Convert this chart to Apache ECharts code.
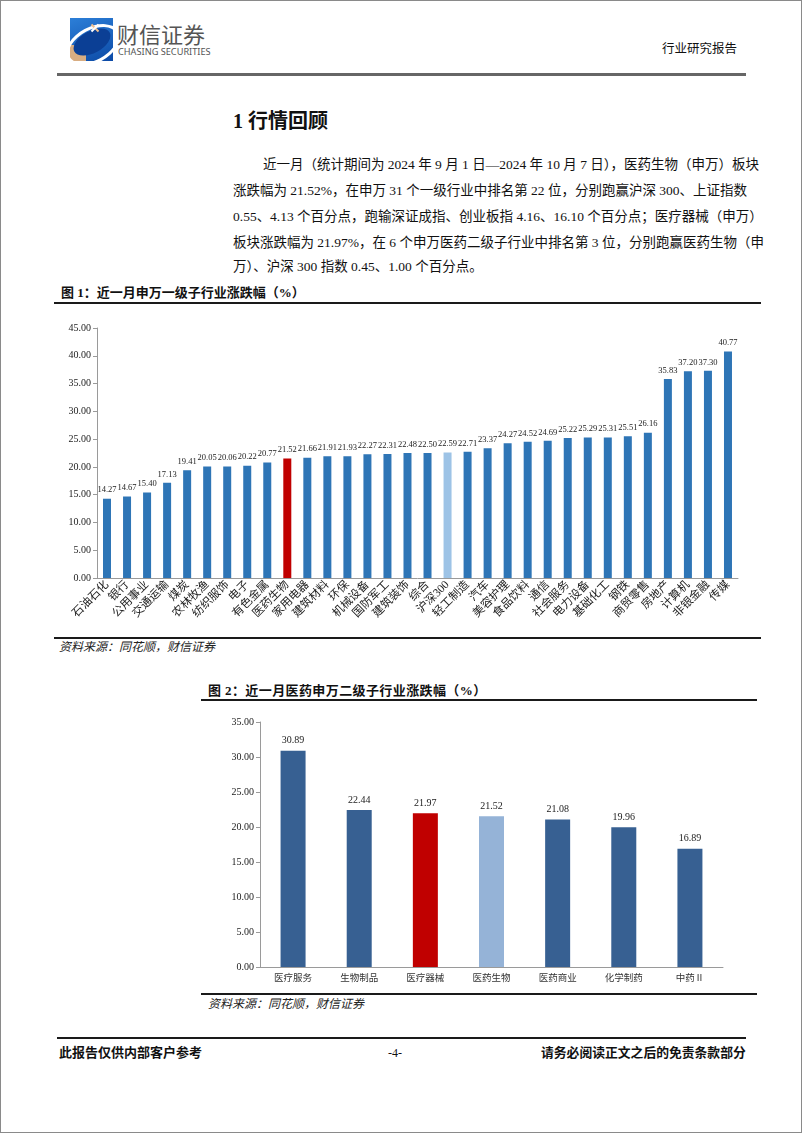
<!DOCTYPE html>
<html lang="zh">
<head>
<meta charset="UTF-8">
<title>行业研究报告</title>
<script src="https://cdn.jsdelivr.net/npm/echarts@6/dist/echarts.min.js"></script>
<style>
  body { margin: 0; background: #fff; }
  #page { position: relative; width: 802px; height: 1133px; box-sizing: border-box; border: 1px solid #8a8a8a; overflow: hidden;
          font-family: "Liberation Serif", "Noto Sans CJK SC", serif; color: #111; }
  .abs { position: absolute; }
  .rule { position: absolute; background: #1a1a1a; }
  .line { position: absolute; font-size: 13.5px; white-space: nowrap; height: 20px; line-height: 20px; }
  .just { text-align: justify; text-align-last: justify; }
  .figt { position: absolute; font-size: 13px; font-weight: bold; line-height: 16px; white-space: nowrap; }
  .src { position: absolute; font-size: 12px; font-style: italic; color: #222; line-height: 14px; }
</style>
</head>
<body>
<div id="page">
  <!-- 页眉 logo -->
  <div class="abs" style="left:69px;top:17px;width:43px;height:43px;overflow:hidden;background:linear-gradient(160deg,#2c7fd8,#0c4aa6);">
    <div class="abs" style="left:0;top:27px;width:16px;height:16px;background:#d8ad82;"></div>
    <div class="abs" style="left:-6px;top:9px;width:52px;height:30px;border:3px solid #fff;border-radius:50%;transform:rotate(-28deg);"></div>
    <div class="abs" style="left:2px;top:13px;width:40px;height:22px;border-radius:50%;background:#0b3f95;transform:rotate(-28deg);"></div>
    <div class="abs" style="left:20px;top:9px;width:10px;height:2px;background:#f0c090;transform:rotate(45deg);"></div>
    <div class="abs" style="left:20px;top:9px;width:10px;height:2px;background:#fff;transform:rotate(-45deg);"></div>
  </div>
  <div class="abs" style="left:116px;top:19px;font-family:'Noto Sans CJK SC';font-size:22px;line-height:26px;color:#555;">财信证券</div>
  <div class="abs" style="left:117px;top:45px;font-family:'Noto Sans';font-size:9.2px;line-height:11px;color:#555;">CHASING SECURITIES</div>
  <div class="abs" style="left:661px;top:40px;font-size:12.5px;line-height:16px;">行业研究报告</div>
  <div class="abs" style="left:56px;top:72px;width:689px;height:3px;background:#666;"></div>

  <!-- 正文 -->
  <div class="abs" style="left:232px;top:107px;font-size:20px;font-weight:bold;line-height:26px;">1 行情回顾</div>
  <div class="line just" style="left:262px;top:154px;width:483px;">近一月（统计期间为 2024 年 9 月 1 日—2024 年 10 月 7 日），医药生物（申万）板块</div>
  <div class="line just" style="left:232px;top:180px;width:513px;">涨跌幅为 21.52%，在申万 31 个一级行业中排名第 22 位，分别跑赢沪深 300、上证指数</div>
  <div class="line just" style="left:232px;top:206px;width:513px;">0.55、4.13 个百分点，跑输深证成指、创业板指 4.16、16.10 个百分点；医疗器械（申万）</div>
  <div class="line just" style="left:232px;top:232px;width:513px;">板块涨跌幅为 21.97%，在 6 个申万医药二级子行业中排名第 3 位，分别跑赢医药生物（申</div>
  <div class="line" style="left:232px;top:256px;">万）、沪深 300 指数 0.45、1.00 个百分点。</div>

  <!-- 图1 -->
  <div class="figt" style="left:60px;top:284px;">图 1：近一月申万一级子行业涨跌幅（%）</div>
  <div class="rule" style="left:53px;top:301px;width:707px;height:2px;"></div>
  <div id="chart1" class="abs" style="left:53px;top:303px;width:707px;height:333px;"></div>
  <div class="rule" style="left:53px;top:636px;width:707px;height:2px;"></div>
  <div class="src" style="left:58px;top:639px;">资料来源：同花顺，财信证券</div>

  <!-- 图2 -->
  <div class="figt" style="left:207px;top:682px;letter-spacing:0.4px;">图 2：近一月医药申万二级子行业涨跌幅（%）</div>
  <div class="rule" style="left:200px;top:698px;width:556px;height:2px;"></div>
  <div id="chart2" class="abs" style="left:200px;top:700px;width:556px;height:292px;"></div>
  <div class="rule" style="left:200px;top:992px;width:556px;height:2px;"></div>
  <div class="src" style="left:207px;top:996px;">资料来源：同花顺，财信证券</div>

  <!-- 页脚 -->
  <div class="rule" style="left:56px;top:1036px;width:689px;height:2px;"></div>
  <div class="abs" style="left:58px;top:1044px;font-size:13px;font-weight:bold;line-height:16px;">此报告仅供内部客户参考</div>
  <div class="abs" style="left:387px;top:1044px;font-size:12px;line-height:16px;">-4-</div>
  <div class="abs" style="left:540px;top:1044px;font-size:12.8px;font-weight:bold;line-height:16px;">请务必阅读正文之后的免责条款部分</div>
</div>
<script>
  // 图1：申万一级行业近一月涨跌幅
  const industries = ['石油石化', '银行', '公用事业', '交通运输', '煤炭', '农林牧渔', '纺织服饰', '电子', '有色金属', '医药生物',
    '家用电器', '建筑材料', '环保', '机械设备', '国防军工', '建筑装饰', '综合', '沪深300', '轻工制造', '汽车',
    '美容护理', '食品饮料', '通信', '社会服务', '电力设备', '基础化工', '钢铁', '商贸零售', '房地产', '计算机',
    '非银金融', '传媒']
  const industryChg = [14.27, 14.67, 15.40, 17.13, 19.41, 20.05, 20.06, 20.22, 20.77, 21.52,
    21.66, 21.91, 21.93, 22.27, 22.31, 22.48, 22.50, 22.59, 22.71, 23.37,
    24.27, 24.52, 24.69, 25.22, 25.29, 25.31, 25.51, 26.16, 35.83, 37.20,
    37.30, 40.77]
  const yTicks1 = [0, 5, 10, 15, 20, 25, 30, 35, 40, 45]

  // 图2：医药申万二级行业近一月涨跌幅
  const subIndustries = ['医疗服务', '生物制品', '医疗器械', '医药生物', '医药商业', '化学制药', '中药Ⅱ']
  const subChg = [30.89, 22.44, 21.97, 21.52, 21.08, 19.96, 16.89]
  const yTicks2 = [0, 5, 10, 15, 20, 25, 30, 35]

  const numFont = 'Liberation Serif'
  const cnFont = '"Liberation Serif", "Noto Sans CJK SC"'

  function valueAxis(ticks) {
    return {
      type: 'value',
      min: ticks[0],
      max: ticks[ticks.length - 1],
      interval: ticks[1] - ticks[0],
      axisLine: { show: true, lineStyle: { color: '#9a9a9a' } },
      axisTick: { show: true, length: 4, lineStyle: { color: '#9a9a9a' } },
      splitLine: { show: false },
      axisLabel: { fontFamily: numFont, fontSize: 10, color: '#222', margin: 6, formatter: v => v.toFixed(2) }
    }
  }

  const chart1 = echarts.init(document.getElementById('chart1'))
  chart1.setOption({
    animation: false,
    grid: { left: 43, right: 23, top: 24, bottom: 59 },
    xAxis: {
      type: 'category',
      data: industries,
      axisLine: { lineStyle: { color: '#9a9a9a' } },
      axisTick: { length: 3, lineStyle: { color: '#9a9a9a' } },
      axisLabel: { rotate: 45, interval: 0, fontFamily: cnFont, fontSize: 11.5, color: '#222', margin: 5 }
    },
    yAxis: valueAxis(yTicks1),
    series: [{
      type: 'bar',
      barWidth: 8,
      data: industryChg.map((v, i) => ({
        value: v,
        itemStyle: {
          color: industries[i] === '医药生物' ? '#C00000' : industries[i] === '沪深300' ? '#9DC3E6' : '#2E75B6'
        }
      })),
      label: { show: true, position: 'top', distance: 4, fontFamily: numFont, fontSize: 8.5, color: '#222', formatter: p => p.value.toFixed(2) }
    }]
  })

  const chart2 = echarts.init(document.getElementById('chart2'))
  chart2.setOption({
    animation: false,
    grid: { left: 59, right: 34, top: 21, bottom: 26 },
    xAxis: {
      type: 'category',
      data: subIndustries,
      axisLine: { lineStyle: { color: '#9a9a9a' } },
      axisTick: { length: 3, lineStyle: { color: '#9a9a9a' } },
      axisLabel: { interval: 0, fontFamily: cnFont, fontSize: 9.5, color: '#333', margin: 7 }
    },
    yAxis: valueAxis(yTicks2),
    series: [{
      type: 'bar',
      barWidth: 25,
      data: subChg.map((v, i) => ({
        value: v,
        itemStyle: {
          color: subIndustries[i] === '医疗器械' ? '#C00000' : subIndustries[i] === '医药生物' ? '#95B3D7' : '#376092'
        }
      })),
      label: { show: true, position: 'top', distance: 5, fontFamily: numFont, fontSize: 10, color: '#222', formatter: p => p.value.toFixed(2) }
    }]
  })
</script>
</body>
</html>
